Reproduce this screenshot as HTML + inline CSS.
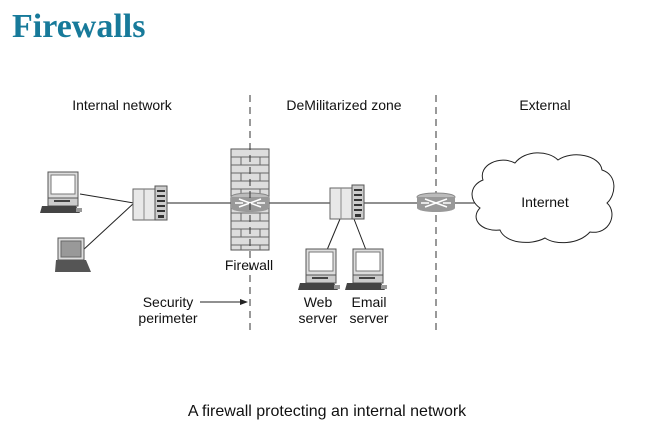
<!DOCTYPE html>
<html><head><meta charset="utf-8"><style>
html,body{margin:0;padding:0;background:#fff}
svg{display:block}
text{font-family:"Liberation Sans",sans-serif;fill:#111}
</style></head><body>
<svg width="645" height="426" viewBox="0 0 645 426" xmlns="http://www.w3.org/2000/svg">
<defs>
<g id="pc">
  <rect x="8" y="0" width="30" height="26" fill="#ddd" stroke="#555"/>
  <rect x="11" y="3" width="24" height="19" fill="#fff" stroke="#777"/>
  <rect x="8" y="26" width="30" height="8" fill="#ccc" stroke="#555"/>
  <rect x="14" y="28" width="16" height="2" fill="#444"/>
  <polygon points="2,34 36,34 40,41 0,41" fill="#444"/>
  <rect x="36" y="36" width="6" height="4" fill="#999"/>
</g>
<g id="sw">
  <rect x="0" y="3" width="22" height="31" fill="#e8e8e8" stroke="#666"/>
  <line x1="11" y1="3" x2="11" y2="34" stroke="#888"/>
  <rect x="22" y="0" width="12" height="34" fill="#ccc" stroke="#555"/>
  <rect x="24" y="4" width="8" height="2" fill="#333"/><rect x="24" y="9" width="8" height="2" fill="#333"/>
  <rect x="24" y="14" width="8" height="2" fill="#333"/><rect x="24" y="19" width="8" height="2" fill="#333"/>
  <rect x="24" y="24" width="8" height="2" fill="#333"/><rect x="25" y="29" width="6" height="3" fill="#333"/>
</g>
<g id="rt">
  <ellipse cx="19" cy="4" rx="19" ry="4" fill="#bbb" stroke="#888"/>
  <rect x="0" y="4" width="38" height="11" fill="#999"/>
  <ellipse cx="19" cy="15" rx="19" ry="4" fill="#999"/>
  <path d="M8 6 L30 14 M30 6 L8 14 M4 10 H12 M26 10 H34" stroke="#fff" stroke-width="1.5"/>
</g>
</defs>

<text x="12" y="37" style="font-family:'Liberation Serif',serif;font-weight:bold;font-size:34px;fill:#177a9a">Firewalls</text>

<text x="122" y="110" font-size="14" text-anchor="middle">Internal network</text>
<text x="344" y="110" font-size="14" text-anchor="middle">DeMilitarized zone</text>
<text x="545" y="110" font-size="14" text-anchor="middle">External</text>

<g stroke="#222" stroke-width="1">
<line x1="80" y1="194" x2="134" y2="203"/>
<line x1="82" y1="251" x2="134" y2="203"/>
<line x1="166" y1="203" x2="332" y2="203"/>
<line x1="364" y1="203" x2="420" y2="203"/>
<line x1="454" y1="203" x2="475" y2="203"/>
<line x1="340" y1="219" x2="327" y2="250"/>
<line x1="354" y1="219" x2="366" y2="250"/>
</g>

<g>
<rect x="231" y="149" width="38" height="101" fill="#ddd" stroke="#555"/>
<g stroke="#666" stroke-width="1">
<path d="M231 157H269M231 165H269M231 173H269M231 181H269M231 189H269M231 197H269M231 205H269M231 213H269M231 221H269M231 229H269M231 237H269M231 245H269"/>
<path d="M241 157V165M260 157V165M241 173V181M260 173V181M241 189V197M260 189V197M241 213V221M260 213V221M241 229V237M260 229V237M241 245V250M260 245V250"/>
</g>
</g>
<use href="#rt" x="231" y="193"/>
<line x1="250" y1="95" x2="250" y2="330" stroke="#333" stroke-dasharray="7,5"/>
<line x1="436" y1="95" x2="436" y2="330" stroke="#333" stroke-dasharray="7,5"/>
<use href="#rt" x="417" y="193"/>

<use href="#pc" x="40" y="172"/>
<g transform="translate(55,238)">
  <rect x="3" y="0" width="26" height="22" fill="#ddd" stroke="#555"/>
  <rect x="6" y="3" width="20" height="16" fill="#999" stroke="#666"/>
  <polygon points="1,22 31,22 36,34 0,34" fill="#555"/>
</g>
<use href="#sw" x="133" y="186"/>
<use href="#sw" x="330" y="185"/>
<use href="#pc" x="298" y="249"/>
<use href="#pc" x="345" y="249"/>

<path d="M483 180 C478 165 500 155 515 163 C525 150 548 150 558 160 C572 150 600 155 602 170 C618 175 616 195 607 203 C618 213 610 235 590 232 C578 245 555 245 545 238 C530 246 505 243 500 230 C480 232 470 218 480 208 C468 200 470 185 483 180 Z" fill="#fff" stroke="#222"/>
<text x="545" y="207" font-size="14" text-anchor="middle">Internet</text>

<text x="249" y="270" font-size="14" text-anchor="middle">Firewall</text>
<text x="318" y="307" font-size="14" text-anchor="middle">Web</text>
<text x="318" y="323" font-size="14" text-anchor="middle">server</text>
<text x="369" y="307" font-size="14" text-anchor="middle">Email</text>
<text x="369" y="323" font-size="14" text-anchor="middle">server</text>
<text x="168" y="307" font-size="14" text-anchor="middle">Security</text>
<text x="168" y="323" font-size="14" text-anchor="middle">perimeter</text>
<line x1="200" y1="302" x2="242" y2="302" stroke="#222"/>
<polygon points="248,302 240,299 240,305" fill="#222"/>

<text x="327" y="416" font-size="16" text-anchor="middle">A firewall protecting an internal network</text>
</svg>
</body></html>
